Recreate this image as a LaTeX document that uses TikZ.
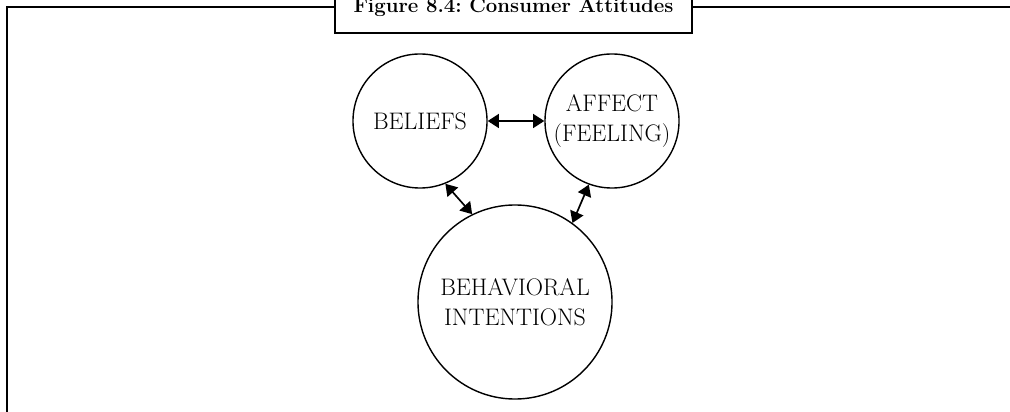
\documentclass[tikz,border=0pt]{standalone}
\usepackage{amsmath,amsfonts,amssymb,xcolor,tikz}
\usetikzlibrary{arrows.meta}
\tikzset{attitude/.style={circle,draw,line width=1pt,inner sep=0pt,align=center,font=\fontsize{17}{21.5}\selectfont}}
\tikzset{titlebox/.style={draw,fill=white,line width=1.4pt,inner sep=0pt,font=\fontsize{14.5}{16}\selectfont\bfseries}}
\tikzset{twoway/.style={{Triangle[length=8pt,width=10pt]}-{Triangle[length=8pt,width=10pt]},line width=1.2pt}}

\begin{document}
\begin{tikzpicture}
                [x=0.025cm,y=-0.025cm]
                \useasboundingbox (0,0) rectangle (1010,412);
                \draw [line width=1.5pt] (7,420) -- (7,7) -- (1015,7);
                \node [titlebox,minimum width=8.925cm,minimum height=1cm,text height=0.25cm,text depth=0.25cm]
                      (title) at (513.5,13) {Figure 8.4:\ Consumer\ Attitudes};
                
                \node [attitude,minimum size=3.35cm] (beliefs) at (420,121) {BELIEFS};
                \node [attitude,minimum size=3.35cm] (affect) at (612,121) {AFFECT\\(FEELING)};
                \node [attitude,minimum size=4.85cm] (behav) at (515,302) {BEHAVIORAL\\INTENTIONS};
                
                \foreach \from/\to in {beliefs.east/affect.west,beliefs.292/behav.116,affect.250/behav.54}
                \draw [twoway] (\from) -- (\to);
            \end{tikzpicture}
\end{document}
